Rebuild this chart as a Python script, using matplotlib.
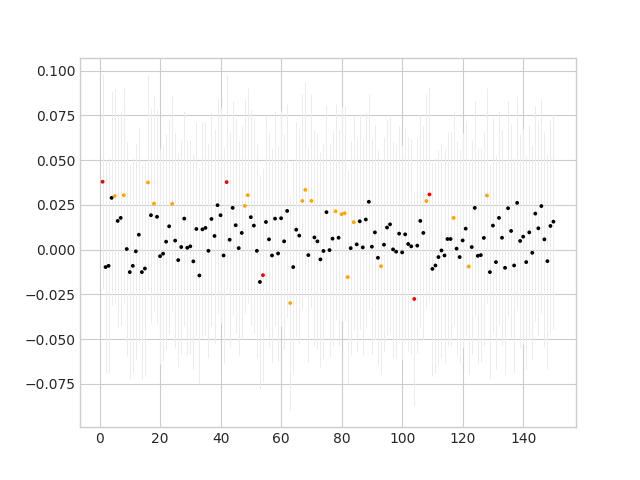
import numpy as np
import matplotlib
matplotlib.use("Agg")
import matplotlib.pyplot as plt

plt.style.use("seaborn-v0_8-whitegrid")
plt.rcParams["font.family"] = ["DejaVu Sans"]

# Sample index
x = np.arange(1, 151)

y = np.array([
    0.0379, -0.0098, -0.0091, 0.0289, 0.0299, 0.0160, 0.0177, 0.0304, 0.0003, -0.0126,
    -0.0091, -0.0010, 0.0083, -0.0126, -0.0106, 0.0375, 0.0192, 0.0257, 0.0183, -0.0037,
    -0.0023, 0.0044, 0.0130, 0.0256, 0.0050, -0.0059, 0.0014, 0.0173, 0.0010, 0.0018,
    -0.0066, 0.0115, -0.0145, 0.0113, 0.0121, -0.0007, 0.0171, 0.0076, 0.0248, 0.0192,
    -0.0033, 0.0377, 0.0055, 0.0233, 0.0136, 0.0008, 0.0093, 0.0244, 0.0304, 0.0181,
    0.0134, -0.0007, -0.0181, -0.0143, 0.0154, 0.0057, -0.0033, 0.0173, -0.0022, 0.0175,
    0.0046, 0.0216, -0.0299, -0.0098, 0.0111, 0.0078, 0.0272, 0.0334, -0.0031, 0.0272,
    0.0068, 0.0046, -0.0055, -0.0008, 0.0209, -0.0003, 0.0061, 0.0214, 0.0066, 0.0198,
    0.0203, -0.0154, 0.0008, 0.0153, 0.0029, 0.0158, 0.0012, 0.0168, 0.0267, 0.0016,
    0.0096, -0.0046, -0.0093, 0.0027, 0.0123, 0.0141, 0.0001, -0.0012, 0.0089, -0.0016,
    0.0085, 0.0031, 0.0018, -0.0276, 0.0022, 0.0160, 0.0093, 0.0271, 0.0308, -0.0108,
    -0.0089, -0.0042, -0.0005, -0.0033, 0.0059, 0.0059, 0.0177, 0.0005, -0.0042, 0.0051,
    0.0117, -0.0095, 0.0014, 0.0233, -0.0035, -0.0031, 0.0065, 0.0302, -0.0126, 0.0134,
    -0.0070, 0.0177, 0.0066, -0.0102, 0.0231, 0.0104, -0.0089, 0.0261, 0.0048, 0.0072,
    -0.0070, 0.0096, -0.0018, 0.0201, 0.0119, 0.0243, 0.0057, -0.0065, 0.0132, 0.0156,
])

# Error bar half-width (about the same for every point)
yerr = np.full(len(y), 0.06)

# Flagged points
orange_idx = [5, 8, 16, 18, 24, 48, 49, 63, 67, 68, 70, 78, 80, 81, 82, 84, 93, 108, 117, 122, 128]
red_idx = [1, 42, 54, 104, 109]

colors = np.array(["black"] * len(x), dtype=object)
colors[np.array(orange_idx) - 1] = "orange"
colors[np.array(red_idx) - 1] = "red"

fig, ax = plt.subplots(figsize=(6.4, 4.8), dpi=100)
ax.errorbar(x, y, yerr=yerr, fmt="none", ecolor="#ececec", elinewidth=0.7)
ax.scatter(x, y, c=list(colors), s=3, zorder=3)

fig.savefig("out.png")
